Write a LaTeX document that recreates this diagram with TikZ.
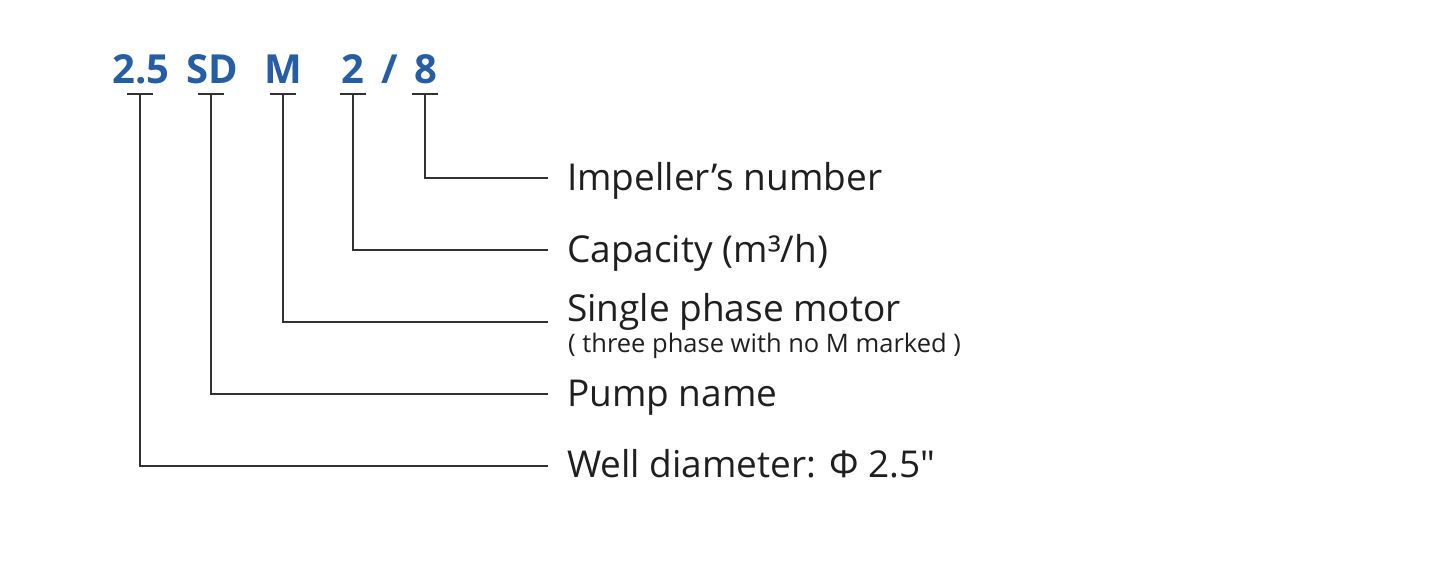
\documentclass[tikz,border=0pt]{standalone}
\usepackage{fontspec}
\setmainfont{Open Sans}
\usepackage{tikz}
\definecolor{codeblue}{RGB}{38,94,166}
\definecolor{leadgray}{RGB}{50,50,50}
\newcommand{\inchmark}{\XeTeXglyph\XeTeXcharglyph"22\relax}

\begin{document}
\begin{tikzpicture}[x = 1pt, y = -1pt,
		code/.style = {anchor = base, text = codeblue, inner sep = 0, font = \fontsize{40}{40}\selectfont\bfseries},
		label/.style = {anchor = base west, text = black!88, inner sep = 0, font = \fontsize{37}{37}\selectfont},
		note/.style = {anchor = base west, text = black!88, inner sep = 0, font = \fontsize{25.5}{25.5}\selectfont},
		lead/.style = {leadgray, line width = 1.6pt}]
		\useasboundingbox (0, 0) rectangle (1436, 582);
		% model code
		\node[code] (c25) at (141, 83) {2.5};
		\node[code] (cSD) at (212, 83) {SD};
		\node[code] (cM) at (283, 83) {M};
		\node[code] (c2) at (353, 83) {2};
		\node[code] (cslash) at (390, 83) {/};
		\node[code] (c8) at (426, 83) {8};
		% meanings
		\node[label] (impeller) at (567, 190) {Impeller’s number};
		\node[label] (capacity) at (567, 262) {Capacity (m³/h)};
		\node[label] (motor) at (567, 321) {Single phase motor};
			\node[note] (motornote) at (568, 352) {( three phase with no M marked )};
		\node[label] (pump) at (567, 406) {Pump name};
		\node[label] (well) at (567, 477) {Well diameter: Φ 2.5\inchmark};
		% leaders
		\foreach \n/\x/\y/\m in {c25/140/466/well, cSD/211/394/pump, cM/283/322/motor, c2/353/250/capacity, c8/425/178/impeller}
		{
			\coordinate (\n bar) at (\x, 94);
			\coordinate (\m end) at (548, \y);
			\draw[lead] ([xshift = -13pt]\n bar) -- ([xshift = 13pt]\n bar);
			\draw[lead] (\n bar) |- (\m end);
		}
	\end{tikzpicture}
\end{document}
